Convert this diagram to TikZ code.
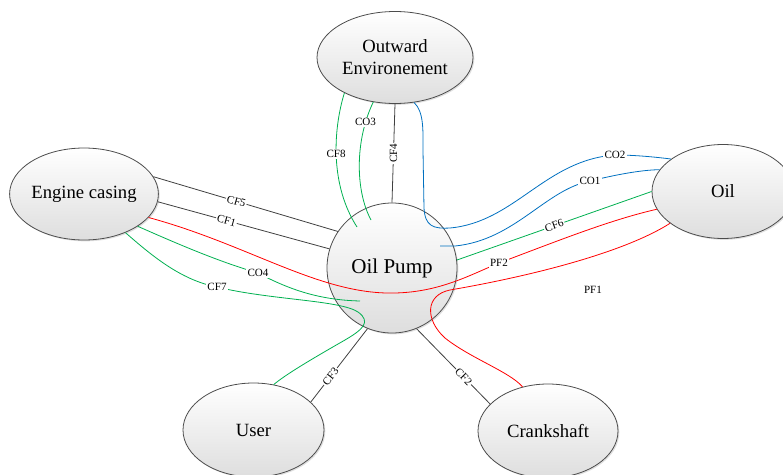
\documentclass[tikz,border=0pt]{standalone}
\usepackage{fontspec}
\setmainfont{Liberation Serif}
\usetikzlibrary{shapes.geometric,shadows}
\definecolor{cgreen}{HTML}{00B050}
\definecolor{cred}{HTML}{FF0000}
\definecolor{cblue}{HTML}{0070C0}
\definecolor{cblack}{HTML}{404040}
\begin{document}
\begin{tikzpicture}[x=0.75pt,y=-0.75pt,
  ent/.style={ellipse, draw=black!70, line width=0.6pt, top color=white, bottom color=black!13,
    inner sep=0pt, drop shadow={shadow xshift=1pt,shadow yshift=-1pt,opacity=0.25},
    font=\fontsize{14}{16.5}\selectfont, align=center},
  lbl/.style={fill=white, inner sep=0.8pt, font=\fontsize{8.3}{9.5}\selectfont, text=black},
  con/.style={line width=0.6pt},
  kline/.style={con, draw=cblack},
  gline/.style={con, draw=cgreen},
  rline/.style={con, draw=cred},
  bline/.style={con, draw=cblue}]
\useasboundingbox (0,0) rectangle (783,475);

% nodes
\node[ent, minimum width=117pt, minimum height=69pt] (oe) at (395,57.5) {Outward\\Environement};
\node[ent, minimum width=106.5pt, minimum height=69pt] (ec) at (84,194) {Engine casing};
\node[ent, minimum width=106.5pt, minimum height=70.5pt] (oil) at (723,191.5) {Oil};
\node[ent, circle, minimum size=97.5pt, font=\fontsize{15.8}{18}\selectfont] (pump) at (392,268) {Oil Pump};
\node[ent, minimum width=105.75pt, minimum height=70.5pt] (user) at (253.5,430) {User};
\node[ent, minimum width=105pt, minimum height=70.5pt] (crank) at (548,431) {Crankshaft};

% free ends inside the pump
\coordinate (cf8e) at (357,227);
\coordinate (co3e) at (371,220);
\coordinate (co4e) at (360,301);
\coordinate (co1s) at (440,246);

% black connectors
\draw[kline] (ec.14) -- node[lbl, sloped, pos=0.45]{CF5} (pump.146);
\draw[kline] (ec.-6) -- node[lbl, sloped, pos=0.4]{CF1} (pump.163.5);
\draw[kline] (oe.270) -- node[lbl, rotate=90, pos=0.5]{CF4} (pump.90);
\draw[kline] (pump.248) -- node[lbl, sloped, pos=0.65]{CF3} (user.26);
\draw[kline] (pump.292) -- node[lbl, sloped, pos=0.64]{CF2} (crank.155);

% green connectors
\draw[gline] (oe.215) .. controls (333,130) and (330,185) .. node[lbl, pos=0.47]{CF8} (cf8e);
\draw[gline] (oe.244) .. controls (355,140) and (355,190) .. node[lbl, pos=0.17]{CO3} (co3e);
\draw[gline] (pump.7) -- node[lbl, sloped, pos=0.5]{CF6} (oil.180);
\draw[gline] (ec.-31) .. controls (180,245) and (220,262) .. (258,273) node[lbl]{CO4}
   .. controls (290,290) and (320,300) .. (co4e);
\draw[gline] (ec.-43) .. controls (150,254) and (180,280) .. (217,287) node[lbl]{CF7}
   .. controls (270,300) and (340,300) .. (358,312)
   .. controls (372,322) and (362,330) .. (345,340)
   .. controls (310,360) and (285,375) .. (user.66.6);

% blue connectors
\draw[bline] (oe.-67) .. controls (424,112) and (423,130) .. (423,150) -- (424,208)
   .. controls (425,226) and (433,229) .. (450,228)
   .. controls (515,222) and (545,160) .. (615,155) node[lbl]{CO2}
   .. controls (635,155) and (655,157) .. (oil.148);
\draw[bline] (co1s) -- (455,246) .. controls (515,240) and (545,190) .. (590,181) node[lbl]{CO1}
   .. controls (615,175) and (640,170) .. (oil.161);

% red connectors
\draw[rline] (ec.-20.6) .. controls (250,245) and (320,295) .. (395,293)
   .. controls (440,292) and (470,275) .. (499,263) node[lbl]{PF2}
   .. controls (560,240) and (610,220) .. (oil.195);
\draw[rline] (oil.211) .. controls (620,255) and (520,278) .. (450,290)
   .. controls (425,295) and (425,320) .. (445,338)
   .. controls (470,358) and (510,372) .. (crank.120);
\node[lbl, fill=none] (pf1) at (593,290) {PF1};
\end{tikzpicture}
\end{document}
